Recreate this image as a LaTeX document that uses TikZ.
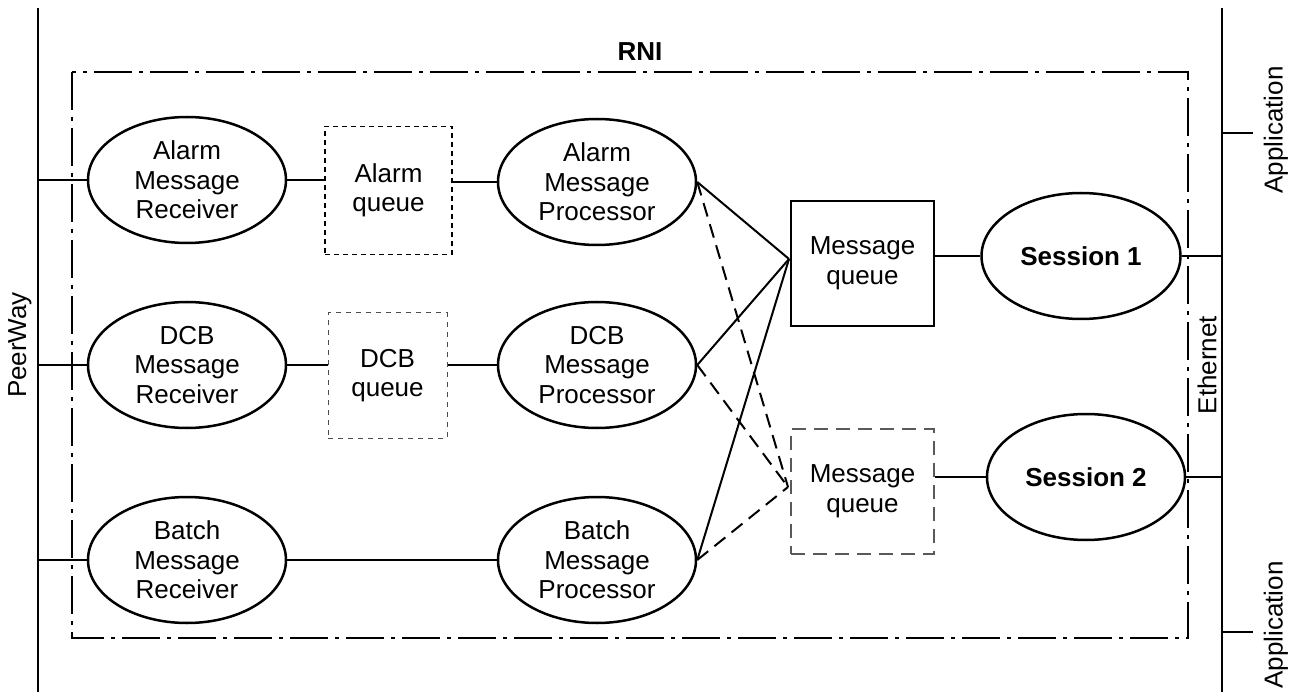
\documentclass[tikz,border=0pt]{standalone}
\usepackage{fontspec}
\setmainfont{Liberation Sans}
\usetikzlibrary{shapes.geometric}
\begin{document}
\begin{tikzpicture}[x=1pt,y=-1pt,
  every node/.style={font=\fontsize{26}{29.5}\selectfont, align=center, inner sep=0pt},
  proc/.style={ellipse, draw, line width=2.5pt, minimum width=198pt, minimum height=126pt},
  qbox/.style={rectangle, draw, minimum width=127pt, minimum height=128pt},
  wire/.style={line width=2pt},
  dwire/.style={line width=2pt, dash pattern=on 14pt off 8pt},
  bus/.style={line width=2.2pt},
  rni/.style={line width=2pt, dash pattern=on 38pt off 7pt on 4pt off 7pt}
]
\useasboundingbox (0,0) rectangle (1295,700);

% buses
\coordinate (pwT) at (38,8);   \coordinate (pwB) at (38,692);
\coordinate (etT) at (1222,8); \coordinate (etB) at (1222,692);
\draw[bus] (pwT) -- (pwB);
\draw[bus] (etT) -- (etB);
\node[rotate=90] (pw) at (20,345) {PeerWay};
\node[rotate=90] (eth) at (1207,365) {Ethernet};

% application stubs
\coordinate (ap1a) at (1222,133); \coordinate (ap1b) at (1253,133);
\coordinate (ap2a) at (1222,632); \coordinate (ap2b) at (1253,632);
\draw[bus] (ap1a) -- (ap1b);
\draw[bus] (ap2a) -- (ap2b);
\node[rotate=90] (app1) at (1276,130) {Application};
\node[rotate=90] (app2) at (1276,625) {Application};

% RNI boundary
\draw[rni] (72,72) rectangle (1188,638);
\node[font=\fontsize{26}{29.5}\selectfont\bfseries] (rnilbl) at (640,52) {RNI};

% receivers and processors
\node[proc] (ar) at (187,180) {Alarm\\Message\\Receiver};
\node[proc] (dr) at (187,365) {DCB\\Message\\Receiver};
\node[proc] (br) at (187,560) {Batch\\Message\\Receiver};
\node[proc] (ap) at (597,182) {Alarm\\Message\\Processor};
\node[proc] (dp) at (597,365) {DCB\\Message\\Processor};
\node[proc] (bp) at (597,560) {Batch\\Message\\Processor};
\node[proc, minimum width=199pt] (s1) at (1081,256) {\bfseries Session 1};
\node[proc, minimum width=198pt] (s2) at (1086,477) {\bfseries Session 2};

% queues
\node[qbox, line width=1.6pt, dash pattern=on 5pt off 4pt] (aq) at (388.5,190.5) {Alarm\\queue};
\node[qbox, draw=black!70, line width=1pt, dash pattern=on 5pt off 5pt, minimum width=119pt, minimum height=125pt] (dq) at (387.5,375.5) {DCB\\queue};
\node[qbox, line width=1.1pt, minimum width=143pt, minimum height=125pt] (mq1) at (862.5,263.5) {Message\\queue};
\node[qbox, draw=black!65, line width=1.1pt, dash pattern=on 14pt off 8pt, minimum width=143pt, minimum height=125pt] (mq2) at (862.5,491.5) {Message\\queue};

% peerway taps
\draw[wire] (pwT |- ar.west) -- (ar.west);
\draw[wire] (pwT |- dr.west) -- (dr.west);
\draw[wire] (pwT |- br.west) -- (br.west);

% receiver -> queue -> processor
\draw[wire] (ar.east) -- (aq.west |- ar.east);
\draw[wire] (aq.east |- ap.west) -- (ap.west);
\draw[wire] (dr.east) -- (dq.west |- dr.east);
\draw[wire] (dq.east |- dp.west) -- (dp.west);
\draw[wire] (br.east) -- (bp.west);

% processors -> message queues
\coordinate (m1in) at (789,259);
\coordinate (m2in) at (788,487);
\draw[wire] (ap.east) -- (m1in);
\draw[wire] (dp.east) -- (m1in);
\draw[wire] (bp.east) -- (m1in);
\draw[dwire] (ap.east) -- (m2in);
\draw[dwire] (dp.east) -- (m2in);
\draw[dwire] (bp.east) -- (m2in);

% message queues -> sessions -> ethernet
\draw[wire] (mq1.east |- s1.west) -- (s1.west);
\draw[wire] (mq2.east |- s2.west) -- (s2.west);
\draw[wire] (s1.east) -- (etT |- s1.east);
\draw[wire] (s2.east) -- (etT |- s2.east);
\end{tikzpicture}
\end{document}
